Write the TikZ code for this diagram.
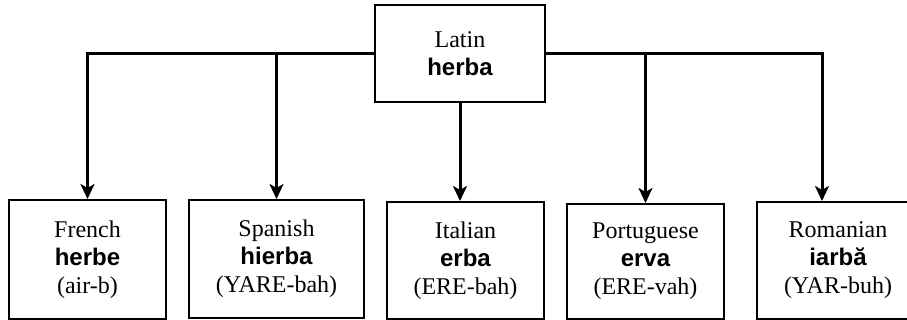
\documentclass[tikz,border=0pt]{standalone}
\usepackage{fontspec}
\setmainfont{Liberation Serif}
\setsansfont{Liberation Sans}
\usetikzlibrary{arrows.meta}
\newcommand{\wordform}[1]{{\sffamily\bfseries #1}}

\begin{document}
\begin{tikzpicture}[x=0.5pt,y=-0.5pt,
  lang/.style={draw,line width=1pt,align=center,inner sep=0pt,font=\fontsize{12}{14}\selectfont},
  link/.style={line width=1.5pt,-{Stealth[length=7.5pt,width=7pt,inset=2pt]}}
]
\clip (0,0) rectangle (907,320);
\node[lang,minimum width=85pt,minimum height=48.5pt] (latin) at (460,54) {Latin\\\wordform{herba}};
\node[lang,minimum width=78.5pt,minimum height=59.5pt] (french) at (87.5,259.5) {French\\\wordform{herbe}\\(air-b)};
\node[lang,minimum width=87.5pt,minimum height=59pt] (spanish) at (276.5,259) {Spanish\\\wordform{hierba}\\(YARE-bah)};
\node[lang,minimum width=78.5pt,minimum height=58.5pt] (italian) at (465.5,260.5) {Italian\\\wordform{erba}\\(ERE-bah)};
\node[lang,minimum width=78.5pt,minimum height=57.5pt] (portuguese) at (645.5,261.5) {Portuguese\\\wordform{erva}\\(ERE-vah)};
\node[lang,minimum width=81pt,minimum height=58.5pt] (romanian) at (838,260.5) {Romanian\\\wordform{iarbă}\\(YAR-buh)};
% left branch
\draw[link] (latin.west) -| (french.north);
\draw[link] (spanish.north |- latin.west) -- (spanish.north);
% middle
\draw[link] (latin.south) -- (latin.south |- italian.north);
% right branch
\draw[link] (latin.east) -| ([xshift=-8pt]romanian.north);
\draw[link] (portuguese.north |- latin.east) -- (portuguese.north);
\end{tikzpicture}
\end{document}
